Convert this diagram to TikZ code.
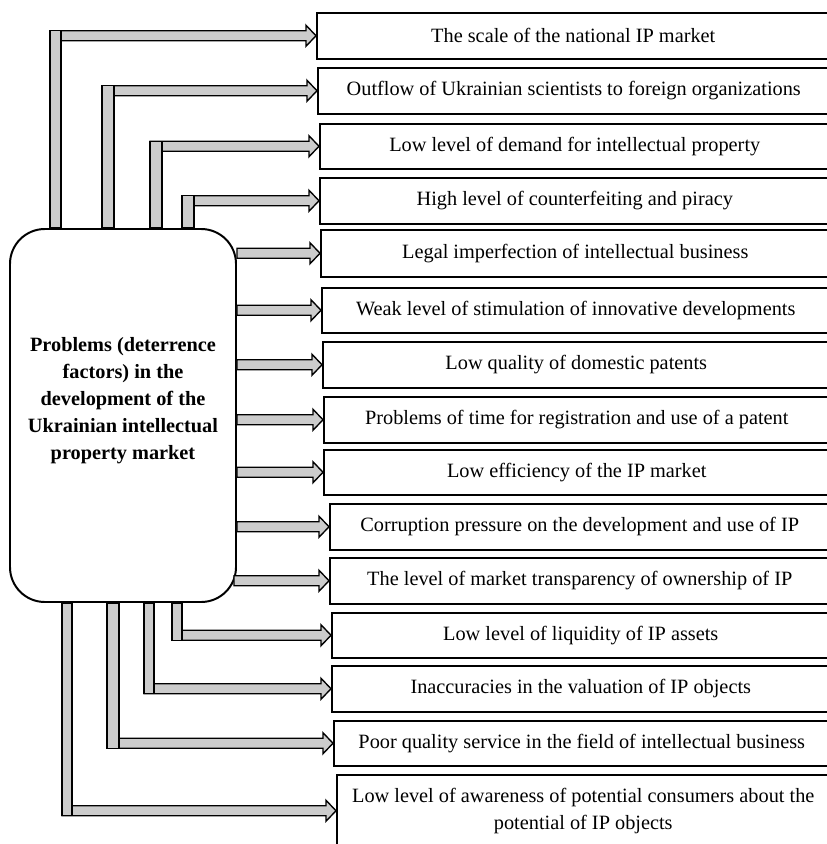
\documentclass[tikz,border=0pt]{standalone}
\usepackage{fontspec}
\setmainfont{Liberation Serif}
\usetikzlibrary{calc}
\newcommand\blockarrow[2]{\filldraw[bar]($(#1|-#2.west)+(0,-5)$)--($(#2.west)+(-10,-5)$)--++(0,-5.5)--(#2.west)--($(#2.west)+(-10,10.5)$)--++(0,-5.5)--($(#1|-#2.west)+(0,5)$)--cycle;}
\begin{document}
\begin{tikzpicture}[x=.66pt,y=-.66pt,
	factor/.style={draw,line width=1pt,anchor=north west,inner sep=0,align=center,font=\fontsize{13.4}{17.8}\selectfont},
	bar/.style={draw,line width=.9pt,fill=gray!40},
	problem/.style={draw,line width=1.3pt,fill=white,rounded corners=23pt,minimum width=226*.66pt,minimum height=373*.66pt}]
\clip(0,0)rectangle(827,844);
\foreach\n/\t/\l/\h/\txt in{
	1/12/316/46/{The scale of the national IP market},
	2/67/317/46/{Outflow of Ukrainian scientists to foreign organizations},
	3/123/319/45/{Low level of demand for intellectual property},
	4/177/319/46/{High level of counterfeiting and piracy},
	5/229/320/47/{Legal imperfection of intellectual business},
	6/287/321/45/{Weak level of stimulation of innovative developments},
	7/341/322/46/{Low quality of domestic patents},
	8/396/323/46/{Problems of time for registration and use of a patent},
	9/449/323/45/{Low efficiency of the IP market},
	10/503/329/46/{Corruption pressure on the development and use of IP},
	11/557/329/46/{The level of market transparency of ownership of IP},
	12/612/331/45/{Low level of liquidity of IP assets},
	13/665/331/46/{Inaccuracies in the valuation of IP objects},
	14/720/333/45/{Poor quality service in the field of intellectual business},
	15/774/336/72/{Low level of awareness of potential consumers about the\\potential of IP objects}}
\node[factor,minimum width={(829-\l)*.66pt},minimum height={\h*.66pt}](b\n)at(\l,\t){\txt};
\node[problem](pb)at(123,415.5){};
\node[font=\bfseries\fontsize{13.4}{17.8}\selectfont,align=center](pt)at($(pb.center)+(0,-15)$)
	{Problems (deterrence\\factors) in the\\development of the\\Ukrainian intellectual\\property market};
\foreach\n/\x/\w in{1/50/11,2/102/12,3/150/12,4/182/12}{
	\coordinate(s\n)at(\x,0|-pb.north);
	\blockarrow{s\n}{b\n}
	\filldraw[bar](s\n)rectangle($(s\n|-b\n.west)+(\w,-5)$);}
\foreach\n/\d in{5/0,6/0,7/0,8/0,9/0,10/0,11/3}{
	\coordinate(s\n)at($(pb.east)+(-\d,0)$);
	\blockarrow{s\n}{b\n}}
\foreach\n/\x/\w in{12/172/10,13/144/10,14/107/12,15/62/10}{
	\coordinate(s\n)at(\x,0|-pb.south);
	\blockarrow{s\n}{b\n}
	\filldraw[bar](s\n)rectangle($(s\n|-b\n.west)+(\w,5)$);}
\end{tikzpicture}
\end{document}
